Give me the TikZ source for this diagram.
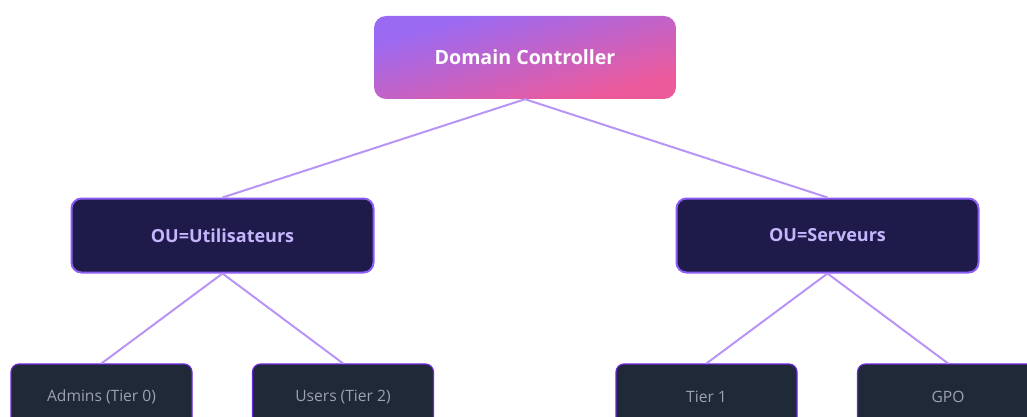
\documentclass[tikz,border=0pt]{standalone}
\usepackage{fontspec}
\setmainfont{Open Sans}
\usetikzlibrary{positioning}
\definecolor{dcA}{HTML}{9A6AF3}
\definecolor{dcB}{HTML}{EC5A9C}
\definecolor{ouFill}{HTML}{1E1B4B}
\definecolor{ouLine}{HTML}{8B5CF6}
\definecolor{ouText}{HTML}{C4B5FD}
\definecolor{leafFill}{HTML}{1F2937}
\definecolor{leafLine}{HTML}{6D28D9}
\definecolor{leafText}{HTML}{9CA3AF}
\definecolor{link}{HTML}{B794F6}

\begin{document}
\begin{tikzpicture}[x=1pt, y=-1pt,
    root/.style={rounded corners=12pt, draw=none, minimum width=302pt, minimum height=83pt,
      text=white, font=\fontsize{19.6}{22}\selectfont\bfseries},
    ou/.style={rounded corners=10pt, fill=ouFill, draw=ouLine, line width=2pt,
      minimum width=302pt, minimum height=74pt,
      text=ouText, font=\fontsize{18}{21}\selectfont\bfseries},
    leaf/.style={rounded corners=8pt, fill=leafFill, draw=leafLine, line width=1.2pt,
      minimum width=181pt, minimum height=66pt,
      text=leafText, font=\fontsize{15.6}{18}\selectfont},
    link/.style={draw=link, line width=2pt}]
    \useasboundingbox (0,0) rectangle (1027,417);
    % corner to corner gradient behind the root box
    \begin{scope}
      \clip[rounded corners=12pt] (374,16) rectangle (676,99);
      \begin{scope}[transform canvas={shift={(525,57.5)}, xscale=3.639}]
        \shade[top color=dcA, bottom color=dcB, shading angle=45]
          (-41.5,-41.5) rectangle (41.5,41.5);
      \end{scope}
    \end{scope}
    \node [root] (DC)  at (525,57.5)   {Domain Controller};
    \node [ou]   (OUU) at (222.5,235.5) {OU=Utilisateurs};
    \node [ou]   (OUS) at (827.5,235.5) {OU=Serveurs};
    \node [leaf] (ADM) at (101.5,397)  {Admins (Tier 0)};
    \node [leaf] (USR) at (343,397)    {Users (Tier 2)};
    \node [leaf] (T1)  at (706.5,397)  {Tier 1};
    \node [leaf] (GPO) at (948,397)    {GPO};
    % links from parent to child
    \path[link] (DC.south) edge (OUU.north)
                (DC.south) edge (OUS.north)
                (OUU.south) edge (ADM.north)
                (OUU.south) edge (USR.north)
                (OUS.south) edge (T1.north)
                (OUS.south) edge (GPO.north);
\end{tikzpicture}
\end{document}
